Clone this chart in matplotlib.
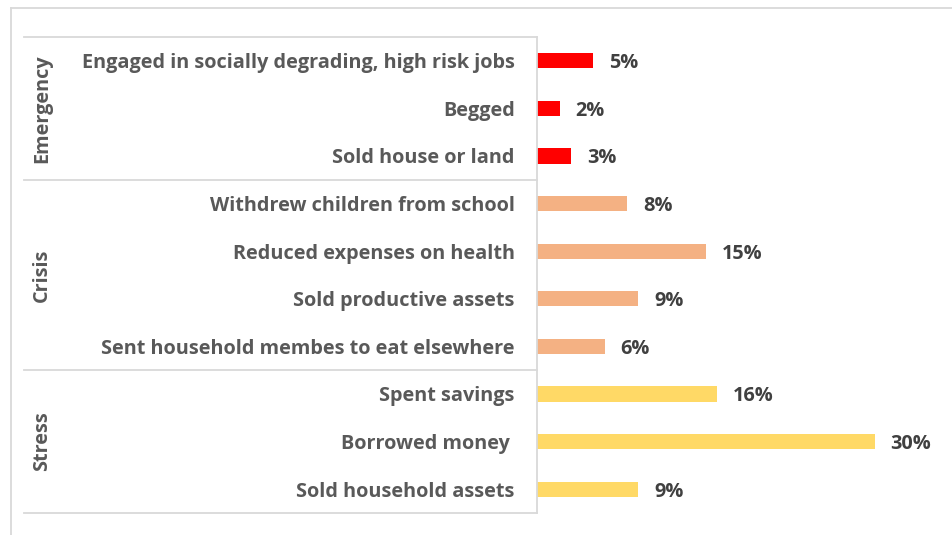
import matplotlib
matplotlib.use("Agg")
import matplotlib.pyplot as plt
from matplotlib.lines import Line2D
from matplotlib.transforms import blended_transform_factory

W, H = 952, 535

LABEL = "#595959"
VALUE = "#404040"
GRID = "#d9d9d9"
FS = 14.3

groups = ["Emergency", "Crisis", "Stress"]
group_colors = ["#ff0000", "#f4b183", "#ffd966"]
categories = [
    ["Engaged in socially degrading, high risk jobs", "Begged", "Sold house or land"],
    ["Withdrew children from school", "Reduced expenses on health",
     "Sold productive assets", "Sent household membes to eat elsewhere"],
    ["Spent savings", "Borrowed money ", "Sold household assets"],
]
values = [
    [5, 2, 3],
    [8, 15, 9, 6],
    [16, 30, 9],
]

plt.rcParams["font.family"] = ["Open Sans", "DejaVu Sans"]

fig = plt.figure(figsize=(W / 100, H / 100), dpi=100)
fig.patch.set_facecolor("white")

# plot area in pixels: x 537..931, y 37..513
x0, y0, x1, y1 = 537, 37, 931, 513
ax = fig.add_axes([x0 / W, 1 - y1 / H, (x1 - x0) / W, (y1 - y0) / H])

labels, vals, cols = [], [], []
for g, cats, vs, c in zip(groups, categories, values, group_colors):
    labels += cats
    vals += vs
    cols += [c] * len(cats)
ypos = list(range(len(labels)))

ax.barh(ypos, vals, height=0.32, color=cols)
for y, v in zip(ypos, vals):
    ax.annotate(f"{v}%", (v, y), xytext=(11.5, 0), textcoords="offset points",
                ha="left", va="center_baseline", fontsize=FS,
                fontweight="bold", color=VALUE)

ax.set_xlim(0, 35)
ax.set_ylim(len(labels) - 0.5, -0.5)
ax.set_xticks([])
ax.set_yticks(ypos)
ax.set_yticklabels(labels, fontsize=FS, fontweight="bold", color=LABEL)
ax.tick_params(axis="y", length=0, pad=16)
for s in ("top", "right", "bottom"):
    ax.spines[s].set_visible(False)
ax.spines["left"].set_color(GRID)
ax.spines["left"].set_linewidth(1.3)

# group separators and rotated group names on the left
tr = blended_transform_factory(fig.transFigure, ax.transData)
bounds = [-0.5]
for cats in categories:
    bounds.append(bounds[-1] + len(cats))
for b in bounds:
    ax.add_line(Line2D([24 / W, x0 / W], [b, b], transform=tr, color=GRID,
                       lw=1.3, clip_on=False))
for g, lo, hi in zip(groups, bounds[:-1], bounds[1:]):
    ax.text(42 / W, (lo + hi) / 2, g, transform=tr, rotation=90,
            ha="center", va="center", fontsize=FS, fontweight="bold",
            color=LABEL)

# outer chart border (top and left edges)
fig.add_artist(Line2D([10.5 / W, 1], [1 - 8 / H, 1 - 8 / H], color=GRID, lw=1.3))
fig.add_artist(Line2D([10.5 / W, 10.5 / W], [0, 1 - 8 / H], color=GRID, lw=1.3))

fig.savefig("out.png", dpi=100, facecolor="white")
